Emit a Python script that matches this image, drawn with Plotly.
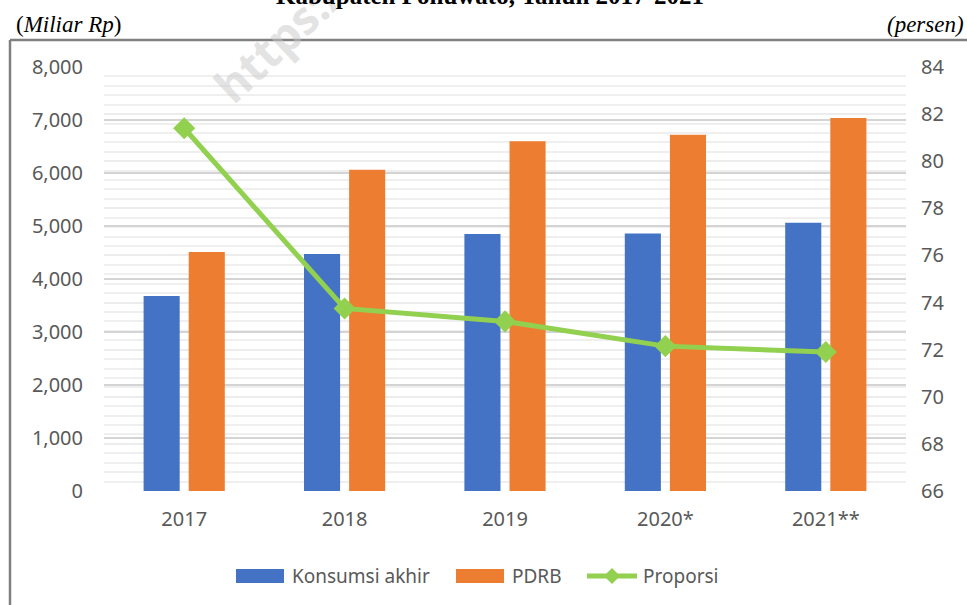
import plotly.graph_objects as go

years = ["2017", "2018", "2019", "2020*", "2021**"]
konsumsi = [3680, 4470, 4850, 4860, 5060]
pdrb = [4510, 6060, 6600, 6720, 7040]
proporsi = [81.4, 73.75, 73.2, 72.15, 71.9]
series_names = ["Konsumsi akhir", "PDRB", "Proporsi"]
colors = ["#4472C4", "#ED7D31", "#92D050"]

W, H = 967, 605
L, R, T, B = 104, 906, 67, 491


def px(x):
    return (x - L) / (R - L)


def py(y):
    return (B - y) / (B - T)


tickfont = dict(family="Noto Sans", size=20, color="#595959")
legfont = dict(family="Noto Sans", size=19, color="#595959")

fig = go.Figure()
fig.add_trace(go.Bar(x=years, y=konsumsi, name=series_names[0],
                     marker=dict(color=colors[0], line=dict(width=0))))
fig.add_trace(go.Bar(x=years, y=pdrb, name=series_names[1],
                     marker=dict(color=colors[1], line=dict(width=0))))
fig.add_trace(go.Scatter(x=years, y=proporsi, name=series_names[2], yaxis="y2",
                         mode="lines+markers",
                         line=dict(color=colors[2], width=5),
                         marker=dict(symbol="diamond", size=17, color=colors[2])))

fig.update_layout(
    width=W, height=H,
    margin=dict(l=L, r=W - R, t=T, b=H - B, autoexpand=False),
    paper_bgcolor="white", plot_bgcolor="white",
    barmode="group", bargap=0.4375, bargroupgap=0.2,
    showlegend=False,
    xaxis=dict(showgrid=False, zeroline=False, showline=False, tickfont=tickfont,
               ticks="", ticklabelstandoff=14),
    yaxis=dict(range=[0, 8000], dtick=1000, tickformat=",d", showgrid=True,
               gridcolor="#d4d4d4", gridwidth=1.5, zeroline=False, showline=False,
               tickfont=tickfont, ticks="", ticklabelstandoff=20),
    yaxis2=dict(range=[66, 84], dtick=2, overlaying="y", side="right",
                showgrid=True, gridcolor="#ececec", gridwidth=1.5,
                minor=dict(dtick=0.4, showgrid=True, gridcolor="#efefef", gridwidth=1.5),
                zeroline=False, showline=False, tickfont=tickfont, ticks="",
                ticklabelstandoff=14),
)

# legend (drawn by hand to match wide swatches)
ly = 576
fig.add_shape(type="rect", xref="paper", yref="paper", x0=px(236), x1=px(284),
              y0=py(569), y1=py(583), fillcolor=colors[0], line=dict(width=0))
fig.add_shape(type="rect", xref="paper", yref="paper", x0=px(456), x1=px(504),
              y0=py(569), y1=py(583), fillcolor=colors[1], line=dict(width=0))
fig.add_shape(type="line", xref="paper", yref="paper", x0=px(587), x1=px(637),
              y0=py(ly), y1=py(ly), line=dict(color=colors[2], width=5))
dx, dyp = 8, 8
fig.add_shape(type="path", xref="paper", yref="paper",
              path=(f"M {px(612 - dx)} {py(ly)} L {px(612)} {py(ly - dyp)} "
                    f"L {px(612 + dx)} {py(ly)} L {px(612)} {py(ly + dyp)} Z"),
              fillcolor=colors[2], line=dict(width=0))
for name, xs in zip(series_names, [290, 510, 641]):
    fig.add_annotation(text=name, xref="paper", yref="paper", x=px(xs), y=py(ly),
                       showarrow=False, font=legfont, xanchor="left", yanchor="middle")

# frame lines
fig.add_shape(type="line", xref="paper", yref="paper",
              x0=px(10), x1=px(10), y0=py(40), y1=py(610),
              line=dict(color="#808080", width=2.5))
fig.add_shape(type="line", xref="paper", yref="paper",
              x0=px(10), x1=px(970), y0=py(40), y1=py(40),
              line=dict(color="#808080", width=2.5))

# watermark
fig.add_annotation(text="<b>https://</b>", xref="paper", yref="paper",
                   x=px(284), y=py(34), showarrow=False, textangle=-43,
                   font=dict(family="Open Sans", size=46, color="rgba(200,200,200,0.5)"),
                   xanchor="center", yanchor="middle")

# title (cut off at top)
fig.add_annotation(text="<b>Kabupaten Pohuwato, Tahun 2017-2021</b>", xref="paper", yref="paper",
                   x=px(490), y=py(-4), showarrow=False,
                   font=dict(family="Liberation Serif", size=25, color="black"),
                   xanchor="center", yanchor="middle")

fig.add_annotation(text="(<i>Miliar Rp</i>)", xref="paper", yref="paper",
                   x=px(14), y=py(25), showarrow=False,
                   font=dict(family="Liberation Serif", size=23, color="black"),
                   xanchor="left", yanchor="middle")
fig.add_annotation(text="<i>(persen)</i>", xref="paper", yref="paper",
                   x=px(966), y=py(25), showarrow=False,
                   font=dict(family="Liberation Serif", size=23, color="black"),
                   xanchor="right", yanchor="middle")

fig.write_html("out.html", config={"displayModeBar": False},
               post_script="document.body.style.margin='0';document.body.style.overflow='hidden';")
